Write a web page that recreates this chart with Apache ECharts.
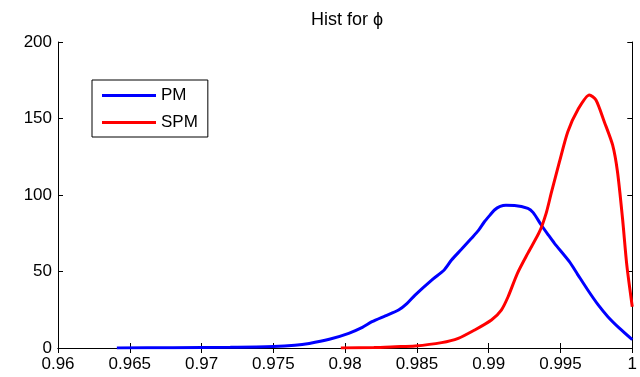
<!DOCTYPE html>
<html>
<head>
<meta charset="utf-8">
<script src="https://cdn.jsdelivr.net/npm/echarts@6/dist/echarts.min.js"></script>
<style>
  html, body { margin: 0; padding: 0; background: #fff; }
  #chart { width: 640px; height: 377px; }
</style>
</head>
<body>
<div id="chart"></div>
<script>
// Kernel density estimates of phi for the two samplers
const pmX = [0.9641, 0.968, 0.972, 0.975, 0.9765, 0.9775, 0.9789, 0.98025, 0.9812, 0.98187,
  0.9828, 0.98372, 0.9843, 0.98487, 0.98603, 0.9869, 0.98741, 0.9881, 0.9888, 0.9893,
  0.9897, 0.9901, 0.9904, 0.9908, 0.9912, 0.9918, 0.99273, 0.9931, 0.99366, 0.99412,
  0.99458, 0.99562, 0.9962, 0.9969, 0.9976, 0.9983, 0.9991, 1.0];
const pmY = [0, 0.2, 0.5, 1.0, 1.8, 3.0, 5.7, 9.6, 13.5, 17.2,
  21, 24.8, 29, 34.6, 44.4, 51, 57.5, 64.5, 71.7, 77,
  82.5, 87, 90.2, 92.5, 93.3, 93.2, 91.3, 88.5, 80.4, 74.3,
  68.4, 56.4, 48, 37.9, 28.5, 20.5, 13, 5.5];

const spmX = [0.9797, 0.982, 0.9835, 0.98487, 0.98672, 0.98788, 0.98903, 0.99019, 0.99088, 0.99135,
  0.992, 0.99273, 0.99354, 0.994, 0.99435, 0.99493, 0.99551, 0.9962, 0.99701, 0.99747,
  0.99805, 0.99863, 0.99897, 0.99932, 0.99962, 1.0];
const spmY = [0, 0.3, 0.8, 1.3, 3.5, 6.3, 11.8, 18.3, 24.8, 33.5,
  48.8, 62, 76, 88, 101, 121.8, 141.4, 155.6, 165.4, 162.1,
  147.9, 132.7, 115.2, 84.8, 54.2, 27];

const xTickLabels = ['0.96', '0.965', '0.97', '0.975', '0.98', '0.985', '0.99', '0.995', '1'];
const yTickLabels = ['0', '50', '100', '150', '200'];

const seriesNames = ['PM', 'SPM'];
const titleText = 'Hist for \u03d5';

const FONT = 'Liberation Sans, Arial, Helvetica, sans-serif';

function pairs(xs, ys) { return xs.map((x, i) => [x, ys[i]]); }

const tickStyle = { inside: true, length: 5, lineStyle: { color: '#000', width: 1 } };
const lineStyle = { color: '#000', width: 1 };

const chart = echarts.init(document.getElementById('chart'), null, { renderer: 'canvas' });
chart.setOption({
  animation: false,
  backgroundColor: '#fff',
  title: {
    text: titleText,
    left: 342,
    top: 6,
    textAlign: 'center',
    textStyle: { fontFamily: FONT, fontSize: 18, fontWeight: 'normal', color: '#000' }
  },
  legend: {
    data: seriesNames,
    orient: 'vertical',
    left: 92,
    top: 80,
    icon: 'rect',
    itemWidth: 54,
    itemHeight: 3,
    itemGap: 10,
    padding: [7, 10, 6, 10],
    borderColor: '#000',
    borderWidth: 1,
    backgroundColor: '#fff',
    textStyle: { fontFamily: FONT, fontSize: 17, color: '#000' }
  },
  grid: { left: 58, right: 5, top: 42, bottom: 29, containLabel: false },
  xAxis: [
    {
      type: 'value', position: 'bottom', min: 0.96, max: 1, interval: 0.005,
      axisLine: { show: true, lineStyle: lineStyle },
      axisTick: tickStyle,
      splitLine: { show: false },
      axisLabel: {
        margin: 8, color: '#000', fontFamily: FONT, fontSize: 17,
        formatter: v => xTickLabels[Math.round((v - 0.96) / 0.005)]
      }
    },
    {
      type: 'value', position: 'top', min: 0.96, max: 1, interval: 0.005,
      axisLine: { show: true, lineStyle: lineStyle },
      axisTick: tickStyle,
      splitLine: { show: false },
      axisLabel: { show: false }
    }
  ],
  yAxis: [
    {
      type: 'value', position: 'left', min: 0, max: 200, interval: 50,
      axisLine: { show: true, lineStyle: lineStyle },
      axisTick: tickStyle,
      splitLine: { show: false },
      axisLabel: {
        margin: 6, color: '#000', fontFamily: FONT, fontSize: 17,
        formatter: v => yTickLabels[Math.round(v / 50)]
      }
    },
    {
      type: 'value', position: 'right', min: 0, max: 200, interval: 50,
      axisLine: { show: true, lineStyle: lineStyle },
      axisTick: tickStyle,
      splitLine: { show: false },
      axisLabel: { show: false }
    }
  ],
  series: [
    {
      name: seriesNames[0], type: 'line', xAxisIndex: 0, yAxisIndex: 0,
      data: pairs(pmX, pmY), showSymbol: false, smooth: 0.25,
      itemStyle: { color: '#0000ff' },
      lineStyle: { color: '#0000ff', width: 3 }
    },
    {
      name: seriesNames[1], type: 'line', xAxisIndex: 0, yAxisIndex: 0,
      data: pairs(spmX, spmY), showSymbol: false, smooth: 0.25,
      itemStyle: { color: '#ff0000' },
      lineStyle: { color: '#ff0000', width: 3 }
    }
  ]
});
</script>
</body>
</html>
